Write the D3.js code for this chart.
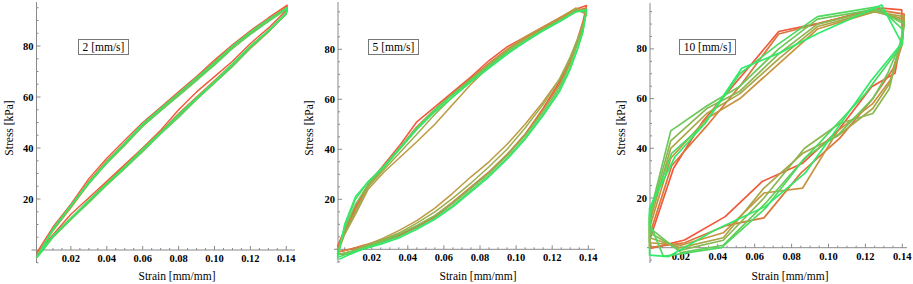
<html>
<head>
  <script src="https://d3js.org/d3.v7.min.js"></script>
  <style>
    body { margin: 0; background: white; }
    svg text { font-family: "Liberation Serif", "Times New Roman", Times, serif; }
  </style>
</head>
<body>
<svg id="chart" width="913" height="284"></svg>
<script>

// ---- data ----
var speedLabels = ["2 [mm/s]", "5 [mm/s]", "10 [mm/s]"];
var xTickValues = [0.02, 0.04, 0.06, 0.08, 0.10, 0.12, 0.14];
var yTickValues = [20, 40, 60, 80];

// 2 mm/s : loading (up) and unloading (down) branches, one row per cycle
var strainUp2 = [0.001, 0.01, 0.02, 0.03, 0.04, 0.05, 0.06, 0.07, 0.08, 0.09, 0.10, 0.11, 0.12, 0.13, 0.1405];
var stressUp2 = [
  [-1, 9, 18, 28, 36, 43, 50, 56, 62, 68, 74.5, 80.5, 86, 91, 96],
  [-2, 8, 17, 27, 35, 42, 49, 55, 61, 67.5, 74, 80, 85.5, 90.5, 95.5],
  [-2, 7.5, 16.5, 26, 34.5, 41.5, 49, 55.5, 61, 67, 73, 79.5, 85, 90, 95],
  [-3, 8, 17, 26.5, 34, 41, 48.5, 55, 60.5, 66.5, 73, 79, 85, 90, 95],
  [-3, 8.5, 17.5, 26, 34, 41.5, 48.5, 54.5, 60.5, 66.5, 72.5, 79, 84.5, 89.5, 94.5],
  [-3, 8, 17.5, 26.5, 34.5, 42, 49.5, 55.5, 61.5, 67.5, 73.5, 80, 85.5, 90.5, 95]
];
var strainDown2 = [0.14, 0.13, 0.12, 0.11, 0.10, 0.09, 0.08, 0.07, 0.06, 0.05, 0.04, 0.03, 0.02, 0.01, 0.004, 0.001];
var stressDown2 = [
  [94, 87, 81, 74, 68, 62, 55, 47, 40, 33.5, 27, 20.5, 14, 6, 1, -1],
  [93, 86, 80, 73, 66.5, 60, 53.5, 46.5, 40, 33, 26.5, 19.5, 12.5, 5.5, 0, -2],
  [93, 85.5, 79, 72, 65.5, 59, 52.5, 46, 39, 32, 25.5, 19, 12, 5, 0, -2],
  [92.5, 85.5, 79.5, 72.5, 66, 59.5, 53, 46, 39.5, 32.5, 26, 19, 12.5, 5.5, 0, -3],
  [92.5, 86, 79.5, 72, 65.5, 59, 52, 45.5, 38.5, 32, 25.5, 18.5, 12, 5, -0.5, -3],
  [93, 86, 80, 73, 66, 59.5, 53, 46, 39.5, 32.5, 26, 19.5, 12.5, 5.5, 0, -3]
];

// 5 mm/s
var strainUp5 = [0.001, 0.005, 0.011, 0.018, 0.027, 0.036, 0.045, 0.055, 0.065, 0.075, 0.085, 0.095, 0.105, 0.115, 0.125, 0.133, 0.139];
var stressUp5 = [
  [1, 8, 17, 26, 34, 42, 51, 57, 63, 69, 75.5, 81, 85, 89, 93, 96, 97.5],
  [0, 7, 16, 25, 33, 41, 49, 56, 62.5, 68.5, 74.5, 80, 84.5, 88.5, 92.5, 95.5, 96.5],
  [-1, 6, 14, 24, 31, 37, 43, 50, 58, 66, 73, 80, 85, 89, 93, 96.5, 95],
  [-2, 6, 15, 25, 32, 39, 46, 54, 61, 67.5, 74, 79.5, 84, 88, 92, 96, 94],
  [-2, 8, 18, 26, 33, 40.5, 48, 55.5, 62, 68, 73.5, 79, 83.5, 88, 92, 95, 95.5],
  [-3, 9, 20, 27, 33.5, 41, 48.5, 56, 62, 67.5, 73, 78.5, 83, 87.5, 91.5, 95, 96],
  [-4, 10, 21, 27, 33, 40.5, 48, 55, 61, 67, 72.5, 78, 83, 87.5, 91.5, 95, 95.5]
];
var strainDown5 = [0.137, 0.134, 0.13, 0.124, 0.115, 0.105, 0.095, 0.085, 0.075, 0.065, 0.055, 0.045, 0.035, 0.025, 0.015, 0.008, 0.002];
var stressDown5 = [
  [91, 84, 76, 67, 56.5, 46, 37.5, 30.5, 24.5, 18.5, 13, 9, 5.5, 3, 1, 0, -1],
  [90, 83, 75, 66, 56, 46, 38, 31, 25, 19, 13.5, 9.5, 6, 3.5, 1.5, 0, -1],
  [89, 83, 76, 68, 59, 50, 42, 35, 29, 22.5, 16.5, 11.5, 7.5, 4, 1, -2, -2],
  [90, 84, 77, 68, 58, 48.5, 40, 33, 26.5, 20.5, 15, 10.5, 6.5, 3.5, 1, -1, -2],
  [88, 82, 74, 65, 55, 45.5, 37.5, 30.5, 24.5, 18.5, 13.5, 9.5, 6, 3, 0.5, -1, -2],
  [87, 80, 72.5, 64, 54, 44.5, 36.5, 29.5, 23.5, 17.5, 12.5, 8.5, 5, 2.5, 0, -1.5, -3],
  [87, 80, 72, 63, 53.5, 44, 36, 29, 23, 17, 12, 8, 4.5, 2, 0, -2, -4]
];

// 10 mm/s : coarse loops, strain and stress per cycle
var strain10 = [
  [0.003, 0.016, 0.032, 0.055, 0.073, 0.0945, 0.1288, 0.1397, 0.14, 0.136, 0.1234, 0.105, 0.086, 0.064, 0.044, 0.022, 0.004],
  [0.003, 0.015, 0.034, 0.053, 0.073, 0.094, 0.124, 0.141, 0.14, 0.135, 0.124, 0.106, 0.085, 0.065, 0.045, 0.022, 0.003],
  [0.003, 0.0145, 0.034, 0.052, 0.073, 0.094, 0.125, 0.141, 0.14, 0.134, 0.124, 0.105, 0.086, 0.065, 0.043, 0.02, 0.003],
  [0.003, 0.0145, 0.034, 0.052, 0.073, 0.094, 0.125, 0.141, 0.14, 0.133, 0.124, 0.105, 0.086, 0.065, 0.043, 0.02, 0.003],
  [0.003, 0.0145, 0.034, 0.052, 0.073, 0.094, 0.125, 0.141, 0.14, 0.133, 0.124, 0.106, 0.087, 0.065, 0.043, 0.02, 0.003],
  [0.003, 0.0145, 0.034, 0.052, 0.073, 0.094, 0.126, 0.141, 0.14, 0.132, 0.124, 0.106, 0.087, 0.066, 0.043, 0.02, 0.003],
  [0.003, 0.015, 0.033, 0.052, 0.073, 0.094, 0.127, 0.14, 0.14, 0.128, 0.12, 0.105, 0.086, 0.066, 0.042, 0.0105, 0.003],
  [0.003, 0.0168, 0.033, 0.053, 0.073, 0.0945, 0.1288, 0.1397, 0.1234, 0.1054, 0.0873, 0.0656, 0.0385, 0.0132, 0.003]
];
var stress10 = [
  [3, 32, 51, 71, 87, 90.3, 96.4, 95.7, 86, 70.2, 64.8, 47, 34, 26.6, 12.5, 3.1, -0.2],
  [5, 33, 49, 66, 86, 90, 96, 94, 84, 72, 60, 44, 30, 12, 9, 2, 0],
  [8, 36, 52, 60, 74, 88, 95, 92, 82, 68, 58, 47, 24, 22, 6, 1, 2],
  [10, 40, 54, 62, 76, 89, 95, 93, 84, 66, 56, 45, 38, 24, 4, 0, 4],
  [12, 43, 56, 63, 78, 90, 95.5, 91, 86, 64, 54, 50, 40, 20, 3, -1, 6],
  [13, 47, 57, 65, 80, 92, 96, 90, 84, 70, 60, 46, 36, 18, 1, -2, 8],
  [14, 38, 50, 70, 82, 93, 97, 88, 82, 70, 62, 50, 35, 16, 0, -3.5, 10],
  [16, 36.6, 50, 72.2, 78.2, 86.3, 97.7, 82.3, 67.5, 48.7, 30, 16.5, 7.1, -3.6, -3]
];

// ---- layout (pixels) ----
var panels = [
  { label: speedLabels[0], xr: [35, 286.3], yr: [250, 46], axisX: 36.5, xAxisL: 31.5, xAxisR: 295, yTop: 2, yBot: 263,
    boxX: 78, boxW: 50, yTitleX: 9, xTitleX: 177, lw: 1.4 },
  { label: speedLabels[1], xr: [335.6, 588.3], yr: [249.3, 49.3], axisX: 338, xAxisL: 334, xAxisR: 595, yTop: 2, yBot: 263,
    boxX: 368, boxW: 50, yTitleX: 309, xTitleX: 478, lw: 1.5 },
  { label: speedLabels[2], xr: [644, 902.3], yr: [247.7, 48.9], axisX: 650, xAxisL: 647, xAxisR: 907, yTop: 3, yBot: 263,
    boxX: 679, boxW: 56, yTitleX: 621, xTitleX: 790, lw: 1.7 }
];

// build cycles
function branchCycles(sUp, yUp, sDown, yDown) {
  return yUp.map(function(row, i) {
    var pts = sUp.map(function(x, j) { return [x, row[j]]; });
    return pts.concat(sDown.map(function(x, j) { return [x, yDown[i][j]]; }));
  });
}
panels[0].cycles = branchCycles(strainUp2, stressUp2, strainDown2, stressDown2);
panels[1].cycles = branchCycles(strainUp5, stressUp5, strainDown5, stressDown5);
panels[2].cycles = strain10.map(function(xs, i) {
  var pts = xs.map(function(x, j) { return [x, stress10[i][j]]; });
  pts.push(pts[0]);
  return pts;
});

var svg = d3.select("#chart");
var axisColor = "#8a8a8a";
var serif = "Liberation Serif";

panels.forEach(function(p) {
  var x = d3.scaleLinear().domain([0, 0.14]).range(p.xr);
  var y = d3.scaleLinear().domain([0, 80]).range(p.yr);
  var g = svg.append("g");

  var color = d3.scaleLinear().domain([0, 0.3, 1])
    .range(["#f2573a", "#c4963f", "#30ea6a"]).interpolate(d3.interpolateRgb);

  // axes lines
  g.append("line").attr("x1", p.xAxisL).attr("x2", p.xAxisR).attr("y1", y(0)).attr("y2", y(0))
    .attr("stroke", axisColor).attr("stroke-width", 1);
  g.append("line").attr("x1", p.axisX).attr("x2", p.axisX).attr("y1", p.yTop).attr("y2", p.yBot)
    .attr("stroke", axisColor).attr("stroke-width", 1);

  // minor ticks
  var xMinor = d3.range(0.005, 0.1426, 0.005);
  g.selectAll(".xminor").data(xMinor).enter().append("line")
    .attr("x1", d => x(d)).attr("x2", d => x(d))
    .attr("y1", y(0)).attr("y2", d => y(0) - (Math.abs(d / 0.02 - Math.round(d / 0.02)) < 1e-6 ? 4 : 2))
    .attr("stroke", axisColor);
  var yMinor = d3.range(-5, 96, 5).filter(d => d !== 0);
  g.selectAll(".yminor").data(yMinor).enter().append("line")
    .attr("x1", p.axisX).attr("x2", d => p.axisX + (d % 20 === 0 ? 4 : 2))
    .attr("y1", d => y(d)).attr("y2", d => y(d))
    .attr("stroke", axisColor);

  // tick labels
  g.selectAll(".xlab").data(xTickValues).enter().append("text")
    .attr("x", d => x(d)).attr("y", y(0) + 12)
    .style("font-family", serif)
    .attr("text-anchor", "middle").attr("font-size", 10.5).attr("font-weight", "bold")
    .text(d => d3.format(".2f")(d));
  g.selectAll(".ylab").data(yTickValues).enter().append("text")
    .attr("x", p.axisX - 3).attr("y", d => y(d) + 3.5)
    .style("font-family", serif)
    .attr("text-anchor", "end").attr("font-size", 10.5).attr("font-weight", "bold")
    .text(d => d);

  // axis titles
  g.append("text").attr("transform", "translate(" + (p.yTitleX + 4) + ",128) rotate(-90)")
    .style("font-family", serif)
    .attr("text-anchor", "middle").attr("font-size", 11.5).text("Stress [kPa]");
  g.append("text").attr("x", p.xTitleX).attr("y", 280)
    .style("font-family", serif)
    .attr("text-anchor", "middle").attr("font-size", 11.5).text("Strain [mm/mm]");

  // hysteresis loops
  var line = d3.line().x(d => x(d[0])).y(d => y(d[1]));
  var n = p.cycles.length;
  g.selectAll(".cycle").data(p.cycles).enter().append("path")
    .attr("d", line)
    .attr("fill", "none")
    .attr("stroke", (d, i) => color(i / (n - 1)))
    .attr("stroke-width", p.lw)
    .attr("stroke-linejoin", "round");

  // speed label box
  g.append("rect").attr("x", p.boxX + 0.5).attr("y", 39.5).attr("width", p.boxW).attr("height", 15)
    .attr("fill", "white").attr("stroke", "#777").attr("stroke-width", 1);
  g.append("text").attr("x", p.boxX + 0.5 + p.boxW / 2).attr("y", 51)
    .style("font-family", serif)
    .attr("text-anchor", "middle").attr("font-size", 11.5).text(p.label);
});

</script>
</body>
</html>
